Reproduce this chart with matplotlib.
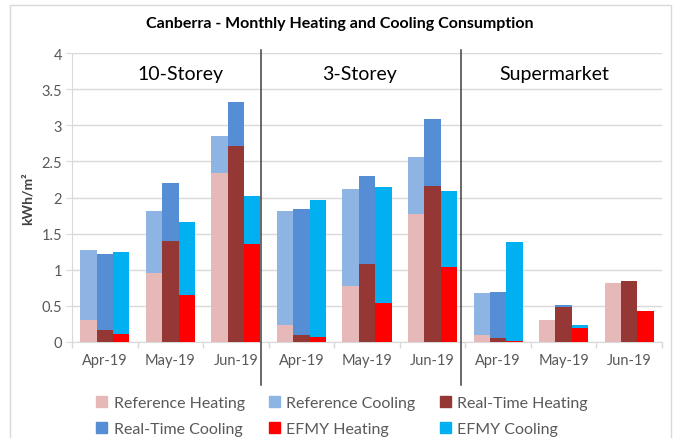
import numpy as np
import matplotlib
matplotlib.use("Agg")
from matplotlib import pyplot as plt
import matplotlib.transforms as mtransforms
from matplotlib.patches import Patch

plt.rcParams['font.family'] = ['Lato', 'DejaVu Sans']

# 数据 (kWh/m2), 顺序: 10-Storey Apr/May/Jun, 3-Storey Apr/May/Jun, Supermarket Apr/May/Jun
months = ["Apr-19", "May-19", "Jun-19"] * 3
groups = ["10-Storey", "3-Storey", "Supermarket"]

ref_heating = [0.30, 0.96, 2.34, 0.23, 0.78, 1.77, 0.10, 0.30, 0.81]
ref_cooling = [0.98, 0.86, 0.51, 1.58, 1.34, 0.79, 0.58, 0.00, 0.00]
rt_heating = [0.17, 1.40, 2.71, 0.10, 1.08, 2.16, 0.05, 0.49, 0.84]
rt_cooling = [1.05, 0.80, 0.61, 1.74, 1.22, 0.93, 0.64, 0.02, 0.00]
efmy_heating = [0.11, 0.65, 1.35, 0.07, 0.54, 1.04, 0.02, 0.20, 0.43]
efmy_cooling = [1.13, 1.01, 0.67, 1.89, 1.61, 1.05, 1.37, 0.03, 0.00]

c_refh, c_refc = '#E6B8B7', '#8DB4E2'
c_rth, c_rtc = '#953735', '#558ED5'
c_efh, c_efc = '#FF0000', '#00B0F0'

fig = plt.figure(figsize=(6.74, 4.39), dpi=100)
ax = fig.add_axes([72 / 674, 1 - 343 / 439, 590 / 674, 289 / 439])

x = np.arange(len(months))
w = 0.25
ax.bar(x - w, ref_heating, w, color=c_refh, zorder=3)
ax.bar(x - w, ref_cooling, w, bottom=ref_heating, color=c_refc, zorder=3)
ax.bar(x, rt_heating, w, color=c_rth, zorder=3)
ax.bar(x, rt_cooling, w, bottom=rt_heating, color=c_rtc, zorder=3)
ax.bar(x + w, efmy_heating, w, color=c_efh, zorder=3)
ax.bar(x + w, efmy_cooling, w, bottom=efmy_heating, color=c_efc, zorder=3)

ax.set_xlim(-0.5, 8.5)
ax.set_ylim(0, 4)
ax.set_yticks(np.arange(0, 4.01, 0.5))
ax.set_yticklabels(['0', '0.5', '1', '1.5', '2', '2.5', '3', '3.5', '4'])
ax.yaxis.grid(True, color='#D9D9D9', linewidth=1, zorder=0)

# x 轴: 标签在类别中心, 刻度线在类别边界
ax.set_xticks(x)
ax.set_xticklabels(months)
ax.set_xticks(np.arange(-0.5, 8.6, 1), minor=True)
ax.tick_params(axis='x', which='major', length=0, pad=8, labelsize=10.5, labelcolor='#595959')
ax.tick_params(axis='x', which='minor', length=4, color='#D9D9D9', width=1)
ax.tick_params(axis='y', length=4, color='#D9D9D9', labelsize=10.5, labelcolor='#595959', pad=3)

for s in ['top', 'right']:
    ax.spines[s].set_visible(False)
ax.spines['left'].set_color('#D9D9D9')
ax.spines['bottom'].set_color('#D9D9D9')

ax.set_ylabel('kWh/m²', fontsize=10, fontweight='bold', color='#404040', labelpad=6)

# 分隔线和分组标签
trans = mtransforms.blended_transform_factory(ax.transData, ax.transAxes)
for sx in [2.38, 5.43]:
    ax.plot([sx, sx], [-0.149, 1.011], color='#404040', linewidth=1.1,
            transform=trans, clip_on=False, zorder=5)
for gx, g in zip([1.15, 3.89, 6.85], groups):
    ax.text(gx, 3.72, g, ha='center', va='center', fontsize=14, color='black')

fig.text(340 / 674, 1 - 24 / 439, 'Canberra - Monthly Heating and Cooling Consumption',
         ha='center', va='center', fontsize=11.5, fontweight='bold')

# 外框 (只有上/左/右)
fig.add_artist(plt.Line2D([10 / 674, 10 / 674, 671 / 674, 671 / 674],
                          [0, 1 - 6 / 439, 1 - 6 / 439, 0],
                          transform=fig.transFigure, color='#D9D9D9', linewidth=1))

handles = [Patch(color=c_refh, label='Reference Heating'),
           Patch(color=c_rtc, label='Real-Time Cooling'),
           Patch(color=c_refc, label='Reference Cooling'),
           Patch(color=c_efh, label='EFMY Heating'),
           Patch(color=c_rth, label='Real-Time Heating'),
           Patch(color=c_efc, label='EFMY Cooling')]
leg = fig.legend(handles=handles, ncol=3, loc='center', bbox_to_anchor=(342 / 674, 1 - 417 / 439),
                 frameon=False, fontsize=11.5, handlelength=0.7, handleheight=0.7,
                 handletextpad=0.4, columnspacing=1.5, labelspacing=0.72)
for t in leg.get_texts():
    t.set_color('#595959')

fig.savefig('out.png', dpi=100)
